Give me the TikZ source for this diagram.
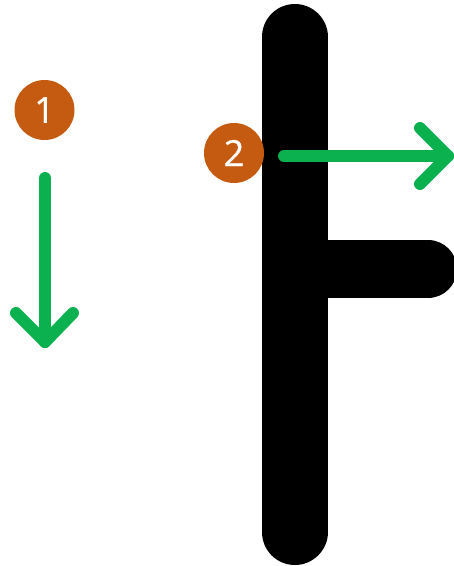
\documentclass[tikz,border=0pt]{standalone}
\usepackage{fontspec}
\setmainfont{Open Sans}[FakeBold=0.8]
\definecolor{badge}{HTML}{C55A11}
\definecolor{arrowgreen}{HTML}{0BB04F}
\tikzset{
  x=1pt,y=-1pt,
  badgenode/.style={circle,fill=badge,text=white,minimum size=60pt,inner sep=0pt,font=\fontsize{36}{36}\selectfont},
  stem/.style={line width=66pt,line cap=round,black},
  branch/.style={line width=58pt,line cap=round,black},
  greenline/.style={line width=12pt,line cap=round,line join=round,arrowgreen}
}
\begin{document}
\begin{tikzpicture}
\useasboundingbox (0,0) rectangle (454,566);
\begin{scope}
\clip (0,0) rectangle (454,566);
\draw[stem] (294.7,37) -- (294.7,532);
\draw[branch] (294.7,269) -- (428,269);
\end{scope}
\coordinate (a1s) at (45,178);
\coordinate (a1e) at (45,342);
\coordinate (a2s) at (284,156);
\coordinate (a2e) at (448,156);
\node[badgenode] (n1) at (44.5,110) {1};
\node[badgenode] (n2) at (234,153) {2};
\draw[greenline] (a1s) -- (a1e);
\draw[greenline] (16,313) -- (a1e) -- (73,313);
\draw[greenline] (a2s) -- (a2e);
\draw[greenline] (420,128) -- (a2e) -- (420,184);
\end{tikzpicture}
\end{document}
